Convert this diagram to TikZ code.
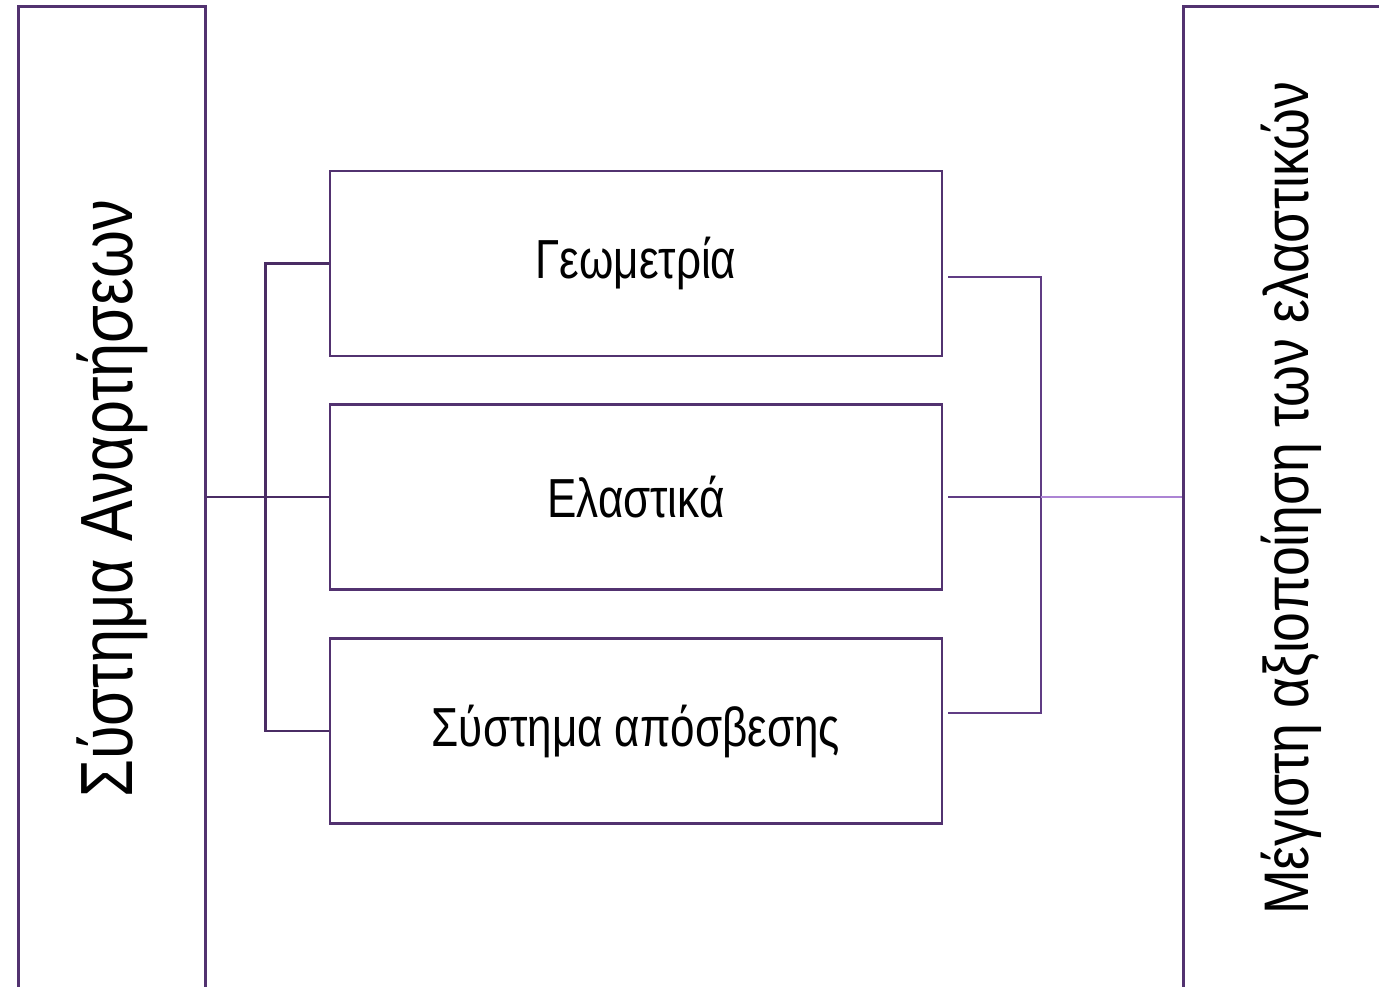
\documentclass[tikz,border=0pt]{standalone}
\usepackage{fontspec}
\setmainfont{Liberation Sans}[FakeStretch=0.80]
\newfontfamily\leftfont{Liberation Sans}[FakeStretch=0.83]
\newfontfamily\rightfont{Liberation Sans}[FakeStretch=0.85]
\usetikzlibrary{calc}
\definecolor{boxc}{RGB}{82,50,112}
\definecolor{linkl}{RGB}{74,44,100}
\definecolor{linkr}{RGB}{96,60,132}
\definecolor{linklight}{RGB}{172,132,212}
\begin{document}
\begin{tikzpicture}[x=1pt,y=-1pt,
  bigbox/.style={draw=boxc,line width=3pt,inner sep=0pt},
  midbox/.style={draw=boxc,line width=2.6pt,minimum width=612pt,minimum height=185pt,inner sep=0pt,font=\fontsize{55}{60}\selectfont},
  linkleft/.style={draw=linkl,line width=2.6pt},
  linkright/.style={draw=linkr,line width=2pt},
  linklt/.style={draw=linklight,line width=2pt}]
\useasboundingbox (0,0) rectangle (1379,987);
\clip (0,0) rectangle (1379,987);
\node[bigbox,minimum width=187pt,minimum height=984pt,anchor=north west] (L) at (17,5)
  {\rotatebox{90}{\leftfont\fontsize{74}{80}\selectfont Σύστημα Αναρτήσεων}};
\node[bigbox,minimum width=216pt,minimum height=984pt,anchor=north west] (R) at (1182,5)
  {\rotatebox{90}{\rightfont\fontsize{63}{68}\selectfont Μέγιστη αξιοποίηση των ελαστικών}};
\node[midbox] (B1) at (636,263.5) {Γεωμετρία};
\node[midbox] (B2) at (636,497) {Ελαστικά};
\node[midbox] (B3) at (636,731) {Σύστημα απόσβεσης};
% left connectors
\draw[linkleft] (L.east |- B2.west) -- (B2.west);
\draw[linkleft] (B1.west) -- ++(-63,0) |- (B3.west);
% right connectors
\coordinate (r1) at ($(B1.east)+(5,13.5)$);
\coordinate (r3) at ($(B3.east)+(5,-18)$);
\coordinate (r2) at ($(B2.east)+(5,0)$);
\coordinate (j) at (1041,497);
\draw[linkright] (r1) -- (r1 -| j) -- (r3 -| j) -- (r3);
\draw[linkright] (r2) -- (r2 -| j);
\draw[linklt] (r2 -| j) -- (r2 -| R.west);
\end{tikzpicture}
\end{document}
